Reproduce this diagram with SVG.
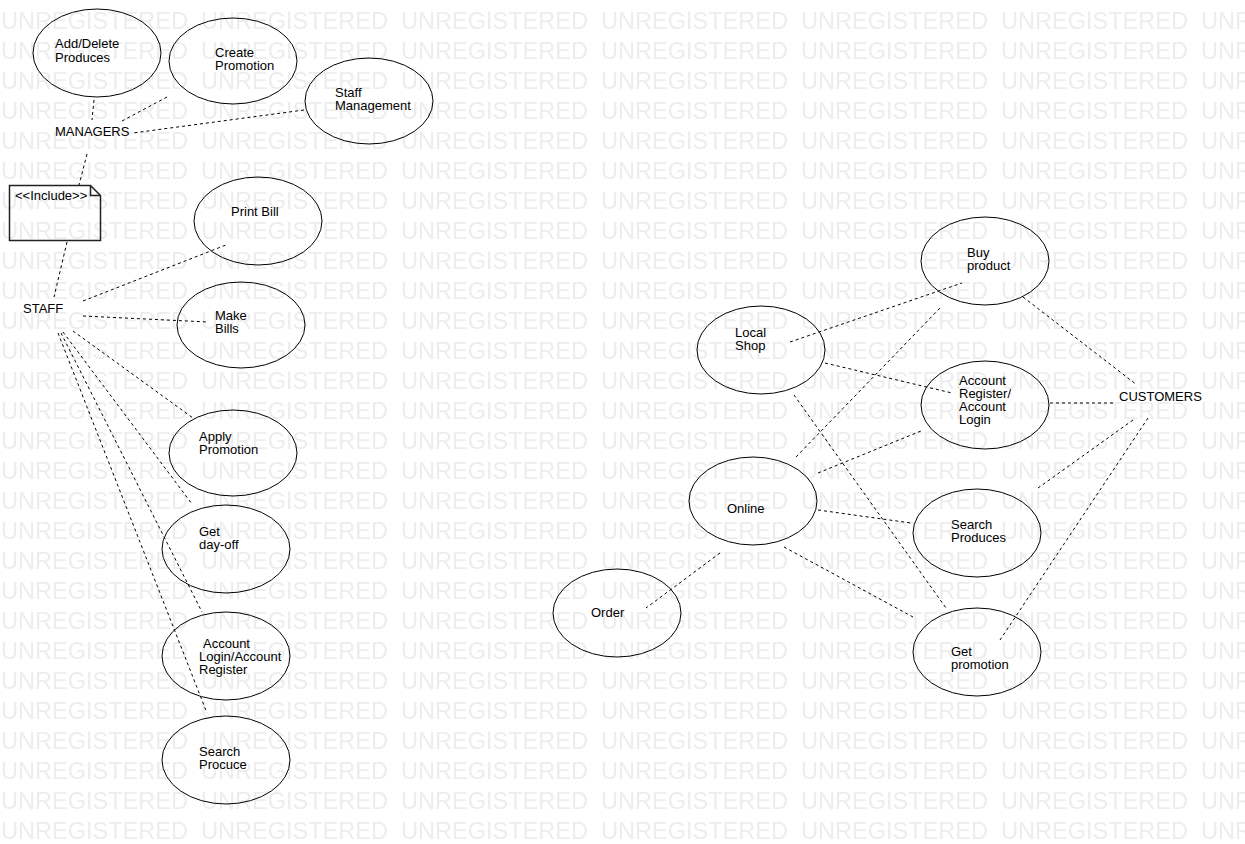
<svg xmlns="http://www.w3.org/2000/svg" width="1245" height="844" viewBox="0 0 1245 844">
<style>
.uc{fill:none;stroke:#000;stroke-width:1}
.nt{fill:none;stroke:#222;stroke-width:1.5}
.t{font-family:"Liberation Sans",Arial,sans-serif;font-size:13px;fill:#000}
.wm{font-family:"Liberation Sans",Arial,sans-serif;font-size:23px;fill:#ededed}
.c line{stroke:#000;stroke-width:1;stroke-dasharray:3 3}
</style>
<defs>
<pattern id="wmp" patternUnits="userSpaceOnUse" x="0" y="0" width="200" height="30">
<text class="wm" x="1" y="29" textLength="187" lengthAdjust="spacingAndGlyphs">UNREGISTERED</text>
</pattern>
</defs>
<rect width="1245" height="844" fill="#fff"/>
<rect width="1245" height="844" fill="url(#wmp)"/>

<g id="connectors" class="c">
<line x1="94" y1="100" x2="92" y2="120"/>
<line x1="167" y1="97" x2="122" y2="121"/>
<line x1="304" y1="110" x2="133" y2="133"/>
<line x1="87" y1="154" x2="79" y2="185"/>
<line x1="67" y1="242" x2="54" y2="297"/>
<line x1="83" y1="301" x2="226" y2="245"/>
<line x1="83" y1="316" x2="208" y2="322"/>
<line x1="73" y1="331" x2="193" y2="418"/>
<line x1="63" y1="332" x2="192" y2="504"/>
<line x1="61" y1="333" x2="202" y2="612"/>
<line x1="58" y1="333" x2="207" y2="713"/>
<line x1="790" y1="342" x2="962" y2="283"/>
<line x1="825" y1="363" x2="952" y2="393"/>
<line x1="1023" y1="297" x2="1137" y2="385"/>
<line x1="1050" y1="403" x2="1113" y2="403"/>
<line x1="796" y1="457" x2="940" y2="308"/>
<line x1="818" y1="473" x2="921" y2="431"/>
<line x1="794" y1="395" x2="946" y2="608"/>
<line x1="818" y1="510" x2="911" y2="523"/>
<line x1="784" y1="547" x2="913" y2="617"/>
<line x1="720" y1="553" x2="646" y2="608"/>
<line x1="1133" y1="420" x2="1038" y2="488"/>
<line x1="1148" y1="418" x2="1000" y2="640"/>
</g>

<g id="add-delete"><ellipse class="uc" cx="97" cy="53" rx="64" ry="44"/><text class="t" x="55" y="48">Add/Delete</text><text class="t" x="55" y="62">Produces</text></g>
<g id="create-promotion"><ellipse class="uc" cx="233" cy="61" rx="64" ry="43"/><text class="t" x="215" y="57">Create</text><text class="t" x="215" y="70">Promotion</text></g>
<g id="staff-management"><ellipse class="uc" cx="369" cy="101" rx="64" ry="43"/><text class="t" x="335" y="97">Staff</text><text class="t" x="335" y="110">Management</text></g>
<g id="managers"><text class="t" x="55" y="136">MANAGERS</text></g>
<g id="include"><path class="nt" d="M9.5,185.5 H90.5 L100.5,195.5 V240.5 H9.5 Z M90.5,185.5 V195.5 H100.5"/><text class="t" x="15" y="200">&lt;&lt;Include&gt;&gt;</text></g>
<g id="staff"><text class="t" x="23" y="313">STAFF</text></g>
<g id="print-bill"><ellipse class="uc" cx="258" cy="221" rx="64" ry="44"/><text class="t" x="231" y="216">Print Bill</text></g>
<g id="make-bills"><ellipse class="uc" cx="241" cy="325" rx="64" ry="43"/><text class="t" x="215" y="320">Make</text><text class="t" x="215" y="333">Bills</text></g>
<g id="apply-promotion"><ellipse class="uc" cx="233" cy="453" rx="64" ry="43"/><text class="t" x="199" y="441">Apply</text><text class="t" x="199" y="454">Promotion</text></g>
<g id="get-day-off"><ellipse class="uc" cx="226" cy="549" rx="64" ry="44"/><text class="t" x="199" y="536">Get</text><text class="t" x="199" y="549">day-off</text></g>
<g id="account-login"><ellipse class="uc" cx="226" cy="656" rx="64" ry="44"/><text class="t" x="203" y="648">Account</text><text class="t" x="199" y="661">Login/Account</text><text class="t" x="199" y="674">Register</text></g>
<g id="search-procuce"><ellipse class="uc" cx="226" cy="760" rx="64" ry="44"/><text class="t" x="199" y="756">Search</text><text class="t" x="199" y="769">Procuce</text></g>

<g id="local-shop"><ellipse class="uc" cx="761" cy="350" rx="64" ry="44"/><text class="t" x="735" y="337">Local</text><text class="t" x="735" y="350">Shop</text></g>
<g id="buy-product"><ellipse class="uc" cx="985" cy="261" rx="64" ry="44"/><text class="t" x="967" y="257">Buy</text><text class="t" x="967" y="270">product</text></g>
<g id="account-register"><ellipse class="uc" cx="985" cy="405" rx="64" ry="44"/><text class="t" x="959" y="385">Account</text><text class="t" x="959" y="398">Register/</text><text class="t" x="959" y="411">Account</text><text class="t" x="959" y="424">Login</text></g>
<g id="customers"><text class="t" x="1119" y="401">CUSTOMERS</text></g>
<g id="online"><ellipse class="uc" cx="753" cy="501" rx="64" ry="44"/><text class="t" x="727" y="513">Online</text></g>
<g id="search-produces"><ellipse class="uc" cx="977" cy="533" rx="64" ry="44"/><text class="t" x="951" y="529">Search</text><text class="t" x="951" y="542">Produces</text></g>
<g id="order"><ellipse class="uc" cx="617" cy="613" rx="64" ry="44"/><text class="t" x="591" y="617">Order</text></g>
<g id="get-promotion"><ellipse class="uc" cx="977" cy="652" rx="64" ry="44"/><text class="t" x="951" y="669">promotion</text><text class="t" x="951" y="656">Get</text></g>
</svg>
